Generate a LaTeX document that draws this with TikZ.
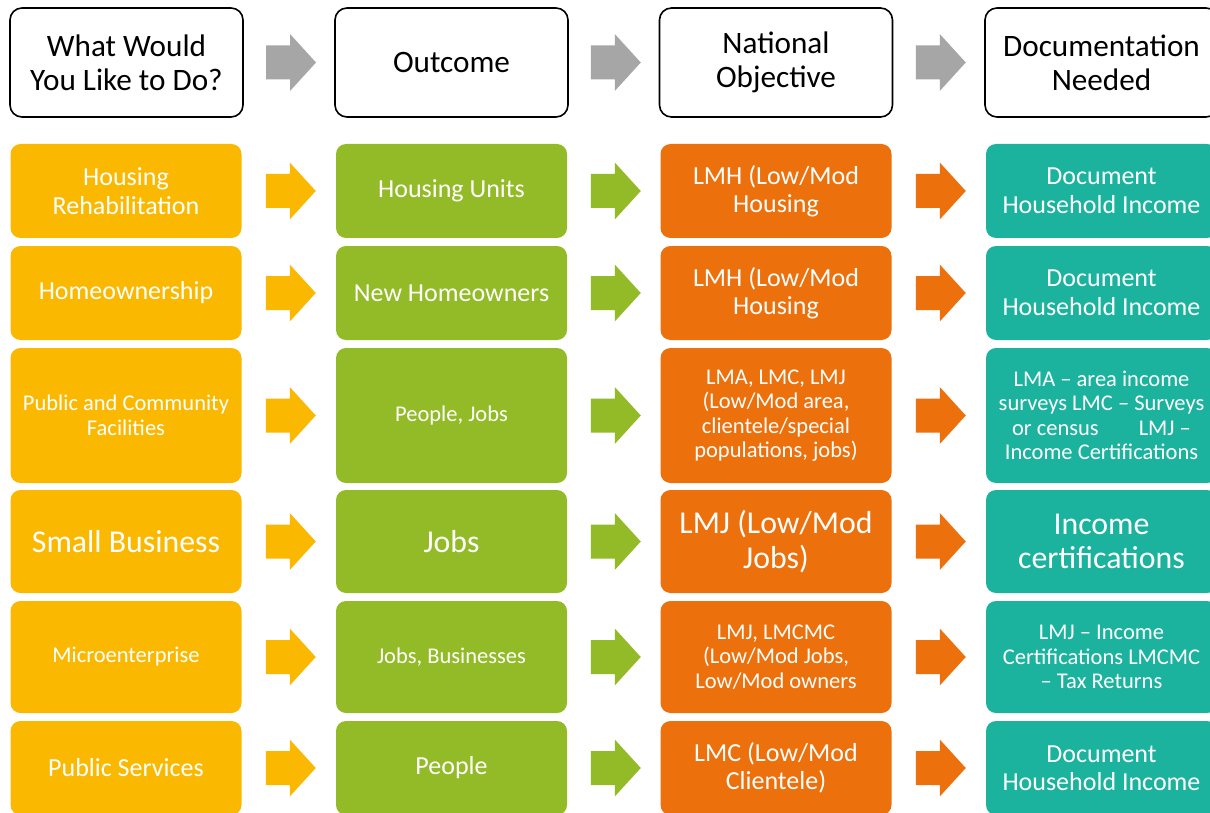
\documentclass[tikz,border=0pt]{standalone}
\usepackage{fontspec}
\setmainfont{Carlito}
\usetikzlibrary{calc}
\definecolor{cyel}{HTML}{FBB800}
\definecolor{cgrn}{HTML}{93BB27}
\definecolor{corg}{HTML}{EC700C}
\definecolor{ctel}{HTML}{1BB39E}
\definecolor{cgry}{HTML}{A6A6A6}
\tikzset{
  hdr/.style={draw=black, line width=1.6pt, rounded corners=12pt, minimum width=233pt,
    minimum height=109pt, align=center, inner sep=0pt, font=\fontsize{31.2}{34}\selectfont},
  cell/.style={rounded corners=10pt, minimum width=231pt, text=white, align=center, inner sep=0pt},
  fs/.style={font=\fontsize{22.5}{24.5}\selectfont},
  fm/.style={font=\fontsize{26}{28.5}\selectfont},
  fl/.style={font=\fontsize{31.8}{34.5}\selectfont},
  barrow/.pic={\fill[#1] (-23,-17) -- (1,-17) -- (1,-28.5) -- (27,0) -- (1,28.5) -- (1,17) -- (-23,17) -- cycle;}
}
\begin{document}
\begin{tikzpicture}[x=1pt,y=-1pt]
\useasboundingbox (0,0) rectangle (1210,813);
\fill[white] (0,0) rectangle (1210,813);
\clip (0,0) rectangle (1210,813);
% headers
\node[hdr] (h1) at (126.5,62.5) {What Would\\You Like to Do?};
\node[hdr] (h2) at (451.5,62.5) {Outcome};
\node[hdr] (h3) at (776,62.5) {National\\Objective};
\node[hdr] (h4) at (1101.5,62.5) {Documentation\\Needed};
\pic at ($(h1.east)!0.5!(h2.west)$) {barrow=cgry};
\pic at ($(h2.east)!0.5!(h3.west)$) {barrow=cgry};
\pic at ($(h3.east)!0.5!(h4.west)$) {barrow=cgry};
% row 1
\node[cell, fill=cyel, minimum height=94pt, fm] (a1) at (126,191) {Housing\\Rehabilitation};
\node[cell, fill=cgrn, minimum height=94pt, fm] (b1) at (451.5,191) {Housing Units};
\node[cell, fill=corg, minimum height=94pt, fm] (c1) at (776,191) {LMH (Low/Mod\\Housing};
\node[cell, fill=ctel, minimum height=94pt, fm] (d1) at (1101.5,191) {Document\\Household Income};
% row 2
\node[cell, fill=cyel, minimum height=94pt, fm] (a2) at (126,293) {Homeownership};
\node[cell, fill=cgrn, minimum height=94pt, fm] (b2) at (451.5,293) {New Homeowners};
\node[cell, fill=corg, minimum height=94pt, fm] (c2) at (776,293) {LMH (Low/Mod\\Housing};
\node[cell, fill=ctel, minimum height=94pt, fm] (d2) at (1101.5,293) {Document\\Household Income};
% row 3
\node[cell, fill=cyel, minimum height=135pt, fs] (a3) at (126,415.5) {Public and Community\\Facilities};
\node[cell, fill=cgrn, minimum height=135pt, fs] (b3) at (451.5,415.5) {People, Jobs};
\node[cell, fill=corg, minimum height=135pt, fs] (c3) at (776,415.5) {LMA, LMC, LMJ\\(Low/Mod area,\\clientele/special\\populations, jobs)};
\node[cell, fill=ctel, minimum height=135pt, fs] (d3) at (1101.5,415.5) {LMA -- area income\\surveys LMC -- Surveys\\or census\hspace{40pt}LMJ --\\Income Certifications};
% row 4
\node[cell, fill=cyel, minimum height=103pt, fl] (a4) at (126,541.5) {Small Business};
\node[cell, fill=cgrn, minimum height=103pt, fl] (b4) at (451.5,541.5) {Jobs};
\node[cell, fill=corg, minimum height=103pt, fl] (c4) at (776,541.5) {LMJ (Low/Mod\\Jobs)};
\node[cell, fill=ctel, minimum height=103pt, fl] (d4) at (1101.5,541.5) {Income\\certifications};
% row 5
\node[cell, fill=cyel, minimum height=112pt, fs] (a5) at (126,657) {Microenterprise};
\node[cell, fill=cgrn, minimum height=112pt, fs] (b5) at (451.5,657) {Jobs, Businesses};
\node[cell, fill=corg, minimum height=112pt, fs] (c5) at (776,657) {LMJ, LMCMC\\(Low/Mod Jobs,\\Low/Mod owners};
\node[cell, fill=ctel, minimum height=112pt, fs] (d5) at (1101.5,657) {LMJ -- Income\\Certifications LMCMC\\-- Tax Returns};
% row 6
\node[cell, fill=cyel, minimum height=94pt, fm] (a6) at (126,768) {Public Services};
\node[cell, fill=cgrn, minimum height=94pt, fm] (b6) at (451.5,768) {People};
\node[cell, fill=corg, minimum height=94pt, fm] (c6) at (776,768) {LMC (Low/Mod\\Clientele)};
\node[cell, fill=ctel, minimum height=94pt, fm] (d6) at (1101.5,768) {Document\\Household Income};
% arrows
\foreach \r in {1,...,6}{
  \pic at ($(a\r.east)!0.5!(b\r.west)$) {barrow=cyel};
  \pic at ($(b\r.east)!0.5!(c\r.west)$) {barrow=cgrn};
  \pic at ($(c\r.east)!0.5!(d\r.west)$) {barrow=corg};
}
\end{tikzpicture}
\end{document}
